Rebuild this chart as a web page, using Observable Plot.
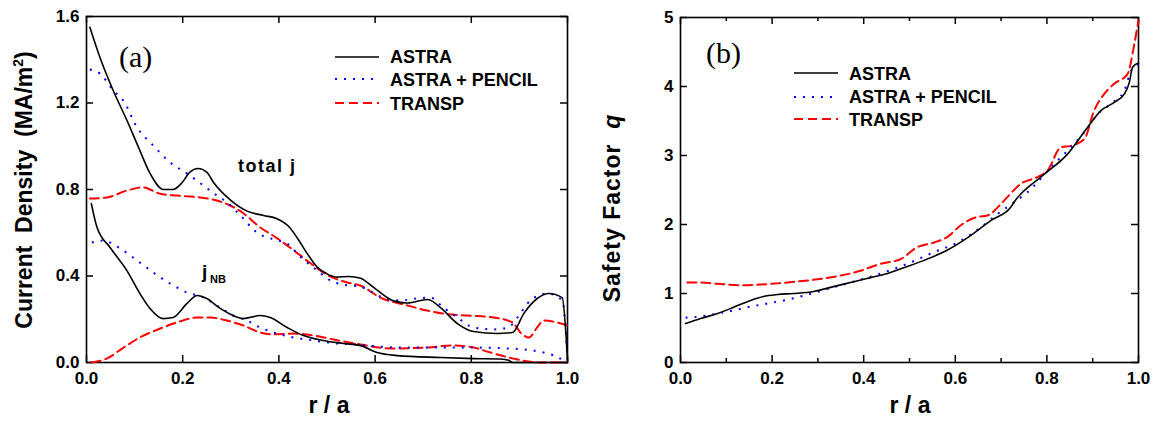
<!DOCTYPE html>
<html>
<head>
<meta charset="utf-8">
<script src="https://cdn.jsdelivr.net/npm/d3@7"></script>
<script src="https://cdn.jsdelivr.net/npm/@observablehq/plot@0.6"></script>
<style>
  html, body { margin: 0; padding: 0; background: #fff; }
  body { width: 1156px; height: 422px; position: relative; overflow: hidden; font-family: "Liberation Sans", Arial, sans-serif; }
  .panel { position: absolute; top: 0; }
  #overlay { position: absolute; left: 0; top: 0; pointer-events: none; }
  #overlay text { font-family: "Liberation Sans", Arial, sans-serif; font-weight: bold; fill: #000; white-space: pre; }
</style>
</head>
<body>
<div id="pa" class="panel" style="left:0px"></div>
<div id="pb" class="panel" style="left:590px"></div>
<svg id="overlay" width="1156" height="422"></svg>
<script>
// ---------- ticks & labels ----------
const xTicks = [0, 0.2, 0.4, 0.6, 0.8, 1.0];
const xMinorB = [0.1, 0.3, 0.5, 0.7, 0.9];
const yTicksA = [0, 0.4, 0.8, 1.2, 1.6];
const yTicksB = [0, 1, 2, 3, 4, 5];
const seriesNames = ["ASTRA", "ASTRA + PENCIL", "TRANSP"];

// ---------- panel (a): total current density ----------
const astraTotR = [0.007,0.028,0.055,0.084,0.111,0.132,0.160,0.180,0.198,0.215,0.232,0.250,0.265,0.300,0.334,0.368,0.396,0.420,0.440,0.460,0.480,0.500,0.520,0.546,0.570,0.597,0.638,0.667,0.709,0.736,0.771,0.805,0.854,0.886,0.909,0.937,0.961,0.989,1.0];
const astraTotJ = [1.55,1.41,1.26,1.12,0.98,0.875,0.80,0.80,0.83,0.88,0.897,0.88,0.83,0.75,0.70,0.68,0.665,0.63,0.57,0.50,0.44,0.41,0.395,0.398,0.39,0.347,0.285,0.275,0.291,0.254,0.18,0.143,0.134,0.139,0.226,0.296,0.319,0.30,0.01];

const pencilTotR = [0.007,0.028,0.055,0.077,0.105,0.136,0.174,0.209,0.236,0.263,0.292,0.320,0.355,0.388,0.417,0.444,0.480,0.507,0.534,0.570,0.617,0.652,0.688,0.715,0.742,0.771,0.805,0.847,0.877,0.896,0.923,0.958,0.989,1.0];
const pencilTotJ = [1.355,1.336,1.26,1.21,1.087,1.01,0.925,0.874,0.83,0.785,0.74,0.68,0.60,0.57,0.55,0.49,0.425,0.379,0.36,0.35,0.30,0.287,0.296,0.30,0.254,0.208,0.162,0.153,0.162,0.208,0.287,0.319,0.287,0.02];

const transpTotR = [0.007,0.042,0.084,0.118,0.153,0.188,0.236,0.271,0.299,0.326,0.361,0.396,0.430,0.465,0.500,0.542,0.570,0.611,0.667,0.709,0.742,0.792,0.847,0.886,0.902,0.920,0.937,0.950,0.979,1.0];
const transpTotJ = [0.758,0.763,0.795,0.81,0.78,0.772,0.763,0.749,0.726,0.69,0.625,0.575,0.52,0.46,0.405,0.37,0.355,0.30,0.264,0.24,0.226,0.217,0.208,0.185,0.139,0.116,0.162,0.194,0.185,0.171];

// ---------- panel (a): NB-driven current density ----------
const astraNbR = [0.01,0.022,0.049,0.084,0.111,0.132,0.159,0.180,0.209,0.230,0.250,0.278,0.305,0.326,0.361,0.382,0.417,0.451,0.492,0.534,0.570,0.604,0.646,0.736,0.805,0.861,0.878,0.886,1.0];
const astraNbJ = [0.735,0.624,0.532,0.425,0.319,0.25,0.203,0.208,0.273,0.31,0.296,0.25,0.217,0.203,0.217,0.208,0.162,0.125,0.102,0.088,0.078,0.046,0.032,0.023,0.018,0.016,0.01,0.0,0.0];

const pencilNbR = [0.011,0.035,0.070,0.105,0.139,0.174,0.209,0.243,0.278,0.305,0.334,0.361,0.396,0.430,0.472,0.520,0.570,0.583,0.667,0.736,0.805,0.875,0.930,0.972,1.0];
const pencilNbJ = [0.555,0.564,0.527,0.472,0.416,0.365,0.324,0.301,0.254,0.217,0.194,0.162,0.134,0.116,0.102,0.088,0.083,0.079,0.069,0.069,0.069,0.065,0.055,0.032,0.0];

const transpNbR = [0.011,0.042,0.077,0.111,0.153,0.188,0.230,0.257,0.292,0.326,0.361,0.388,0.430,0.472,0.514,0.570,0.631,0.709,0.757,0.805,0.840,0.888,0.944,1.0];
const transpNbJ = [0.0,0.018,0.069,0.116,0.157,0.185,0.208,0.208,0.194,0.171,0.139,0.13,0.134,0.125,0.106,0.083,0.065,0.069,0.079,0.069,0.046,0.018,0.0,0.0];

// ---------- panel (b): safety factor ----------
const astraQR = [0.011,0.044,0.081,0.116,0.153,0.181,0.212,0.247,0.291,0.334,0.378,0.415,0.452,0.481,0.532,0.583,0.627,0.678,0.721,0.729,0.787,0.845,0.889,0.918,0.947,0.969,0.980,0.987,1.0];
const astraQ  = [0.565,0.638,0.71,0.80,0.90,0.957,0.985,1.0,1.03,1.10,1.17,1.23,1.29,1.36,1.48,1.63,1.81,2.06,2.25,2.33,2.69,3.02,3.41,3.65,3.77,3.89,4.06,4.28,4.34];

const pencilQR = [0.011,0.044,0.081,0.116,0.153,0.190,0.234,0.278,0.334,0.393,0.437,0.495,0.554,0.605,0.656,0.692,0.728,0.758,0.809,0.845,0.882,0.911,0.940,0.969,0.984,1.0];
const pencilQ  = [0.65,0.667,0.71,0.754,0.81,0.855,0.91,0.985,1.09,1.20,1.29,1.43,1.60,1.74,1.96,2.15,2.32,2.47,2.83,3.07,3.34,3.60,3.75,3.94,4.23,4.32];

const transpQR = [0.015,0.044,0.081,0.131,0.175,0.234,0.291,0.350,0.393,0.437,0.481,0.517,0.554,0.583,0.612,0.648,0.670,0.700,0.714,0.743,0.780,0.801,0.831,0.852,0.882,0.903,0.925,0.947,0.976,0.991,1.0];
const transpQ  = [1.16,1.16,1.14,1.12,1.13,1.16,1.20,1.26,1.33,1.43,1.50,1.67,1.74,1.82,1.99,2.11,2.13,2.30,2.40,2.59,2.69,2.78,3.12,3.14,3.24,3.65,3.89,4.04,4.18,4.62,4.96];

// ---------- build tables ----------
const rows = (r, v, series) => r.map((x, i) => ({r: x, v: v[i], series}));
const lineStyle = {
  "ASTRA": {stroke: "#000000", strokeWidth: 1.6},
  "ASTRA + PENCIL": {stroke: "#0000ff", strokeWidth: 2, strokeDasharray: "2,7", strokeLinecap: "butt"},
  "TRANSP": {stroke: "#ff0000", strokeWidth: 2, strokeDasharray: "9,5"}
};
const curveMark = (data) => Plot.line(data, {x: "r", y: "v", curve: "monotone-x", ...lineStyle[data[0].series]});

function frameMarks(yT, fw, fh, minorX) {
  const k = {stroke: "#000", strokeWidth: 1.5};
  const marks = [
    Plot.frame({stroke: "#000", strokeWidth: 1.6}),
    Plot.tickX(xTicks, {x: d => d, insetTop: fh - 7, ...k}),
    Plot.tickX(xTicks, {x: d => d, insetBottom: fh - 7, ...k}),
    Plot.tickY(yT, {y: d => d, insetRight: fw - 7, ...k}),
    Plot.tickY(yT, {y: d => d, insetLeft: fw - 7, ...k})
  ];
  if (minorX) {
    marks.push(Plot.tickX(minorX, {x: d => d, insetTop: fh - 4, ...k}));
    marks.push(Plot.tickX(minorX, {x: d => d, insetBottom: fh - 4, ...k}));
  }
  return marks;
}

const plotStyle = {fontFamily: "'Liberation Sans', Arial, sans-serif", fontSize: "17px", fontWeight: "bold", color: "#000", background: "transparent", overflow: "visible"};

// panel (a)
const mA = {l: 86, r: 23, t: 16, b: 60, w: 590};
const plotA = Plot.plot({
  width: mA.w, height: 422,
  marginLeft: mA.l, marginRight: mA.r, marginTop: mA.t, marginBottom: mA.b,
  style: plotStyle,
  x: {domain: [0, 1]},
  y: {domain: [0, 1.6]},
  marks: [
    ...frameMarks(yTicksA, mA.w - mA.l - mA.r, 422 - mA.t - mA.b, null),
    Plot.axisX({ticks: xTicks, tickSize: 0, tickPadding: 9, tickFormat: d3.format(".1f"), label: null}),
    Plot.axisY({ticks: yTicksA, tickSize: 0, tickPadding: 7, tickFormat: d3.format(".1f"), label: null}),
    curveMark(rows(transpTotR, transpTotJ, "TRANSP")),
    curveMark(rows(pencilTotR, pencilTotJ, "ASTRA + PENCIL")),
    curveMark(rows(astraTotR, astraTotJ, "ASTRA")),
    curveMark(rows(transpNbR, transpNbJ, "TRANSP")),
    curveMark(rows(pencilNbR, pencilNbJ, "ASTRA + PENCIL")),
    curveMark(rows(astraNbR, astraNbJ, "ASTRA"))
  ]
});
document.getElementById("pa").appendChild(plotA);

// panel (b)
const mB = {l: 90, r: 18, t: 17, b: 60, w: 566};
const plotB = Plot.plot({
  width: mB.w, height: 422,
  marginLeft: mB.l, marginRight: mB.r, marginTop: mB.t, marginBottom: mB.b,
  style: plotStyle,
  x: {domain: [0, 1]},
  y: {domain: [0, 5]},
  marks: [
    ...frameMarks(yTicksB, mB.w - mB.l - mB.r, 422 - mB.t - mB.b, xMinorB),
    Plot.axisX({ticks: xTicks, tickSize: 0, tickPadding: 9, tickFormat: d3.format(".1f"), label: null}),
    Plot.axisY({ticks: yTicksB, tickSize: 0, tickPadding: 7, tickFormat: d3.format("d"), label: null}),
    curveMark(rows(transpQR, transpQ, "TRANSP")),
    curveMark(rows(pencilQR, pencilQ, "ASTRA + PENCIL")),
    curveMark(rows(astraQR, astraQ, "ASTRA"))
  ]
});
document.getElementById("pb").appendChild(plotB);

// ---------- overlay: axis titles, annotations, legends ----------
const ov = d3.select("#overlay");
// axis titles
const ya = ov.append("text").attr("transform", "translate(32,190) rotate(-90)").attr("text-anchor", "middle").style("font-size", "23px");
ya.append("tspan").text("Current  Density  (MA/m");
ya.append("tspan").attr("dy", -9).style("font-size", "14px").text("2");
ya.append("tspan").attr("dy", 9).text(")");
const yb = ov.append("text").attr("transform", "translate(620,208) rotate(-90)").attr("text-anchor", "middle").style("font-size", "23px").style("letter-spacing", "1px");
yb.append("tspan").text("Safety Factor  ");
yb.append("tspan").style("font-style", "italic").text("q");
ov.append("text").attr("x", 329).attr("y", 413).attr("text-anchor", "middle").style("font-size", "23px").text("r / a");
ov.append("text").attr("x", 910).attr("y", 413).attr("text-anchor", "middle").style("font-size", "23px").text("r / a");

// panel tags
ov.append("text").attr("x", 119).attr("y", 67).style("font-family", "'Liberation Serif', 'Times New Roman', serif").style("font-weight", "normal").style("font-size", "30px").text("(a)");
ov.append("text").attr("x", 706).attr("y", 63).style("font-family", "'Liberation Serif', 'Times New Roman', serif").style("font-weight", "normal").style("font-size", "30px").text("(b)");

// curve annotations
ov.append("text").attr("x", 238).attr("y", 172).style("font-size", "18px").style("letter-spacing", "1.5px").text("total");
ov.append("text").attr("x", 290).attr("y", 172).style("font-size", "18px").text("j");
ov.append("text").attr("x", 202).attr("y", 278).style("font-size", "19px").text("j");
ov.append("text").attr("x", 210).attr("y", 283).style("font-size", "11px").text("NB");

// legends
function legend(x0, x1, tx, lineYs, textYs) {
  seriesNames.forEach((name, i) => {
    const s = lineStyle[name];
    ov.append("line").attr("x1", x0).attr("x2", x1).attr("y1", lineYs[i]).attr("y2", lineYs[i])
      .attr("stroke", s.stroke).attr("stroke-width", s.strokeWidth)
      .attr("stroke-dasharray", s.strokeDasharray || null);
    ov.append("text").attr("x", tx).attr("y", textYs[i]).style("font-size", "18px").text(name);
  });
}
legend(335, 379, 390, [57, 79, 103], [63, 86, 110]);
legend(794, 838, 849, [73, 97, 119], [80, 103, 126]);
</script>
</body>
</html>
